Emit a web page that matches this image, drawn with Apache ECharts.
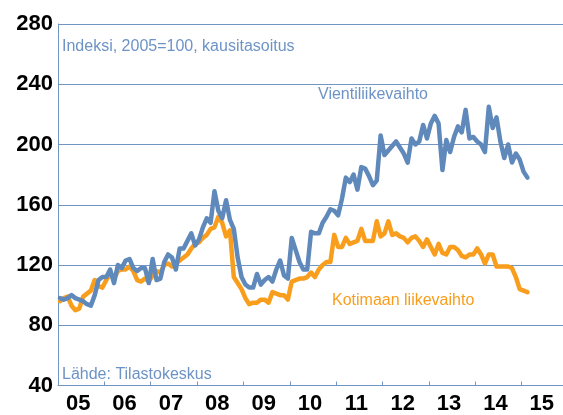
<!DOCTYPE html>
<html>
<head>
<meta charset="utf-8">
<script src="https://cdn.jsdelivr.net/npm/echarts@6/dist/echarts.min.js"></script>
<style>
html,body{margin:0;padding:0;background:#fff;}
#chart{width:563px;height:415px;}
</style>
</head>
<body>
<div id="chart"></div>
<script>
// Year labels (x axis) and monthly categories
const yearLabels = ['05','06','07','08','09','10','11','12','13','14','15'];
const monthNames = ['01','02','03','04','05','06','07','08','09','10','11','12'];
const monthCategories = [];
yearLabels.forEach(function (y) { monthNames.forEach(function (m) { monthCategories.push('20' + y + '-' + m); }); });

// Y ticks
const yTicks = [40, 80, 120, 160, 200, 240, 280];

// Vientiliikevaihto (export turnover), monthly from Jan 2005
const vienti = [
  98, 97, 98, 100, 98, 97, 96, 94, 93, 100, 110, 112,
  112, 117, 108, 120, 118, 123, 124, 118, 116, 118, 118, 108,
  124, 110, 111, 122, 127, 125, 117, 131, 131, 136, 141, 133,
  137, 145, 151, 148, 169, 156, 151, 163, 150, 144, 125, 112,
  107, 105, 105, 114, 107, 110, 112, 109, 117, 123, 113, 111,
  138, 130, 122, 117, 117, 142, 141, 141, 148, 152, 157, 156,
  153, 164, 178, 175, 180, 170, 185, 184, 179, 173, 176, 206,
  193, 196, 199, 202, 198, 194, 188, 204, 200, 202, 213, 204,
  214, 219, 214, 183, 203, 195, 205, 212, 208, 223, 204, 205,
  202, 200, 195, 225, 211, 218, 202, 191, 200, 188, 194, 190,
  182, 178
];

// Kotimaan liikevaihto (domestic turnover), monthly from Jan 2005
const kotimaa = [
  96, 98, 99, 93, 90, 91, 99, 101, 103, 110, 106, 105,
  110, 114, 111, 116, 117, 117, 119, 116, 110, 109, 111, 109,
  113, 116, 115, 120, 121, 119, 121, 123, 125, 127, 131, 134,
  135, 138, 140, 144, 145, 152, 148, 139, 143, 112, 108, 104,
  98, 94, 95, 95, 97, 97, 95, 102, 101, 100, 100, 97,
  109, 110, 111, 111, 112, 115, 112, 117, 120, 122, 122, 140,
  132, 132, 138, 134, 135, 136, 144, 136, 136, 136, 149, 139,
  141, 149, 140, 141, 139, 138, 135, 138, 139, 136, 132, 137,
  132, 127, 134, 128, 127, 132, 132, 130, 126, 125, 127, 127,
  131, 127, 121, 127, 127, 119, 119, 119, 119, 118, 112, 104,
  103, 102
];

const blue = '#6089bb';
const orange = '#f89d1c';
const gridBlue = '#7196c4';
const textBlue = '#6d93c6';
const font = '"Liberation Sans", Arial, sans-serif';

const chart = echarts.init(document.getElementById('chart'));
chart.setOption({
  animation: false,
  backgroundColor: '#ffffff',
  grid: { left: 58, top: 24, width: 510, bottom: 29.5, containLabel: false, outerBoundsMode: 'none' },
  xAxis: [
    {
      type: 'category',
      data: monthCategories,
      boundaryGap: true,
      position: 'bottom',
      axisLine: { show: true, lineStyle: { color: gridBlue, width: 1 } },
      axisTick: {
        show: true, inside: true, length: 4, alignWithLabel: false,
        interval: function (i) { return i % 12 === 0; },
        lineStyle: { color: gridBlue, width: 1 }
      },
      axisLabel: { show: false },
      splitLine: { show: false }
    },
    {
      type: 'category',
      data: yearLabels,
      boundaryGap: true,
      position: 'bottom',
      offset: 0,
      axisLine: { show: false },
      axisTick: { show: false },
      axisLabel: {
        show: true, interval: 0, margin: 7, padding: [0, 6, 0, 0],
        color: '#000', fontSize: 22, fontWeight: 'bold', fontFamily: font
      },
      splitLine: { show: false }
    }
  ],
  yAxis: {
    type: 'value',
    min: yTicks[0],
    max: yTicks[yTicks.length - 1],
    interval: 40,
    axisLine: { show: true, lineStyle: { color: gridBlue, width: 1 } },
    axisTick: { show: false },
    axisLabel: {
      margin: 5, color: '#000', fontSize: 22, fontWeight: 'bold', fontFamily: font
    },
    splitLine: { show: true, lineStyle: { color: gridBlue, width: 1 } }
  },
  series: [
    {
      name: 'Kotimaan liikevaihto',
      type: 'line',
      data: kotimaa,
      xAxisIndex: 0,
      showSymbol: false,
      smooth: false,
      lineStyle: { color: orange, width: 4.5, cap: 'round', join: 'round' },
      z: 2
    },
    {
      name: 'Vientiliikevaihto',
      type: 'line',
      data: vienti,
      xAxisIndex: 0,
      showSymbol: false,
      smooth: false,
      lineStyle: { color: blue, width: 4.5, cap: 'round', join: 'round' },
      z: 3
    }
  ],
  graphic: [
    { type: 'text', left: 62, top: 39, style: { text: 'Indeksi, 2005=100, kausitasoitus', fill: textBlue, font: '16px ' + font } },
    { type: 'text', left: 318, top: 87, style: { text: 'Vientiliikevaihto', fill: textBlue, font: '16px ' + font } },
    { type: 'text', left: 332, top: 293, style: { text: 'Kotimaan liikevaihto', fill: orange, font: '16px ' + font } },
    { type: 'text', left: 62, top: 367, style: { text: 'Lähde: Tilastokeskus', fill: textBlue, font: '16px ' + font } }
  ]
});
</script>
</body>
</html>
